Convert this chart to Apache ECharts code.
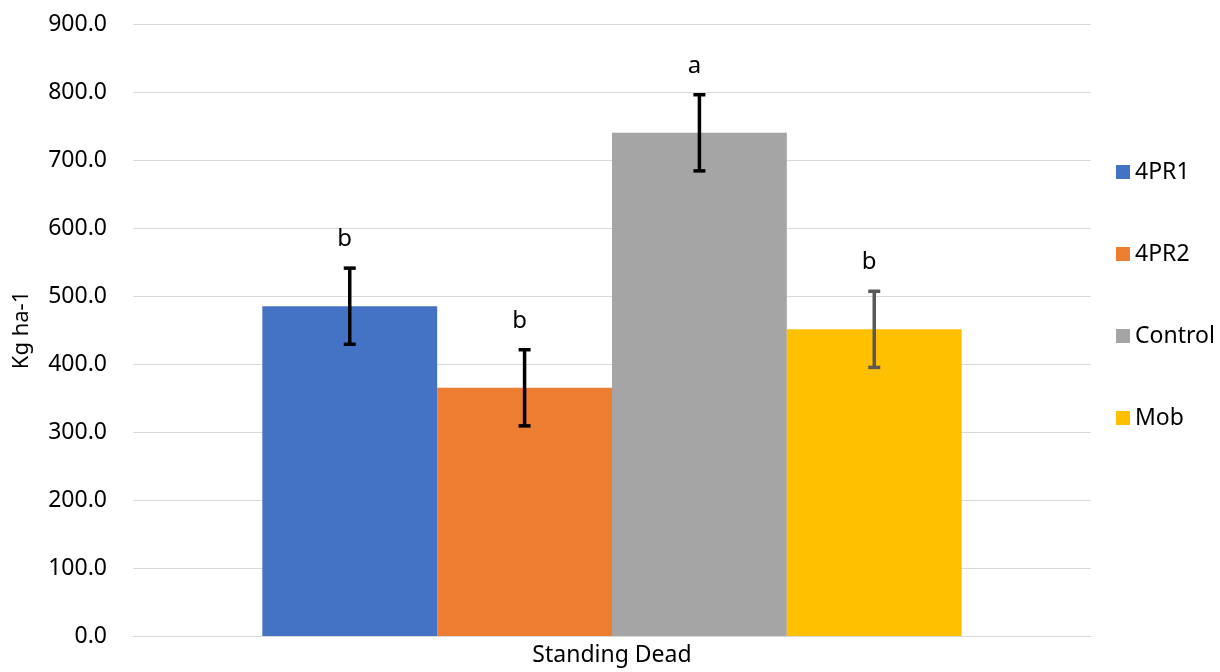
<!DOCTYPE html>
<html><head><meta charset="utf-8">
<script src="https://cdn.jsdelivr.net/npm/echarts@6/dist/echarts.min.js"></script>
<style>html,body{margin:0;padding:0;background:#fff}#c{width:1220px;height:672px}</style>
</head><body><div id="c"></div>
<script>
const categories = ['Standing Dead'];
const seriesNames = ['4PR1', '4PR2', 'Control', 'Mob'];
const means = [485, 365, 740, 451];
const errors = [56, 56, 56, 56];
const letters = ['b', 'b', 'a', 'b'];
const yTicks = { min: 0, max: 900, interval: 100 };
const colors = ['#4472C4', '#ED7D31', '#A5A5A5', '#FFC000'];
const errColors = ['#000000', '#000000', '#000000', '#595959'];

const FONT = '"Noto Sans", "Open Sans", sans-serif';
const GAP = 0.27;

const chart = echarts.init(document.getElementById('c'));
const barSeries = seriesNames.map((n, i) => ({
  name: n, type: 'bar', data: [means[i]],
  itemStyle: { color: colors[i] },
  barGap: '0%', barCategoryGap: (GAP * 100) + '%',
  emphasis: { disabled: true }
}));
const errSeries = {
  type: 'custom', silent: true, z: 10,
  data: means.map((m, i) => [0, m, errors[i], i]),
  renderItem: function (params, api) {
    const cat = api.value(0), m = api.value(1), e = api.value(2), i = api.value(3);
    const center = api.coord([cat, 0])[0];
    const band = api.size([1, 0])[0];
    const groupW = band * (1 - GAP);
    const barW = groupW / seriesNames.length;
    const x = center - groupW / 2 + barW * (i + 0.5);
    const yTop = api.coord([cat, m + e])[1];
    const yBot = api.coord([cat, m - e])[1];
    const cap = 6;
    const st = { stroke: errColors[i], lineWidth: 3.5 };
    return {
      type: 'group', children: [
        { type: 'line', shape: { x1: x, y1: yTop, x2: x, y2: yBot }, style: st },
        { type: 'line', shape: { x1: x - cap, y1: yTop, x2: x + cap, y2: yTop }, style: st },
        { type: 'line', shape: { x1: x - cap, y1: yBot, x2: x + cap, y2: yBot }, style: st },
        { type: 'text', x: x - 5, y: yTop - 29, style: { text: letters[i], fill: '#000', font: '24px ' + FONT, textAlign: 'center', textVerticalAlign: 'middle' } }
      ]
    };
  }
};

chart.setOption({
  animation: false,
  grid: { left: 133, right: 129, top: 24, bottom: 36 },
  legend: {
    orient: 'vertical', left: 1111, top: 155,
    itemWidth: 14, itemHeight: 14, itemGap: 58, icon: 'rect',
    data: seriesNames,
    textStyle: { fontFamily: FONT, fontSize: 23, color: '#000', lineHeight: 24 }
  },
  xAxis: {
    type: 'category', data: categories,
    axisLine: { lineStyle: { color: '#d9d9d9', width: 1 } },
    axisTick: { show: false },
    axisLabel: { fontFamily: FONT, fontSize: 23, color: '#000', margin: 8 }
  },
  yAxis: {
    type: 'value', min: yTicks.min, max: yTicks.max, interval: yTicks.interval,
    name: 'Kg ha-1', nameLocation: 'middle', nameGap: 100, nameRotate: 90,
    nameTextStyle: { fontFamily: FONT, fontSize: 22, color: '#000' },
    axisLine: { show: false }, axisTick: { show: false },
    splitLine: { lineStyle: { color: '#d9d9d9', width: 1 } },
    axisLabel: { fontFamily: FONT, fontSize: 23, color: '#000', margin: 26, formatter: v => v.toFixed(1) }
  },
  series: [...barSeries, errSeries]
});
</script></body></html>
